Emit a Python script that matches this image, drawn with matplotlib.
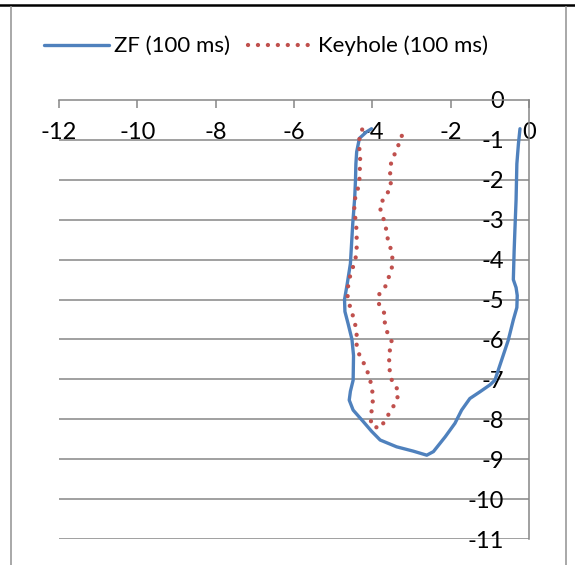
import matplotlib
matplotlib.use("Agg")
import matplotlib.pyplot as plt
from matplotlib.lines import Line2D

plt.rcParams["font.family"] = ["Lato", "DejaVu Sans"]

# ZF (100 ms) - traced along the loop, left side down, right side up
zf_x = [-4.02, -4.15, -4.33, -4.40, -4.42, -4.43, -4.45, -4.50, -4.53, -4.56,
        -4.64, -4.71, -4.70, -4.62, -4.52, -4.48, -4.49, -4.56, -4.59, -4.49,
        -4.23, -4.02, -3.80, -3.38, -2.95, -2.61, -2.44, -2.14, -1.89, -1.72,
        -1.51, -1.25, -1.00, -0.87, -0.70, -0.53, -0.40, -0.31, -0.30, -0.33,
        -0.40, -0.38, -0.36, -0.33, -0.31, -0.27, -0.23]
zf_y = [-0.72, -0.80, -0.96, -1.30, -1.60, -2.00, -2.45, -3.10, -3.60, -4.10,
        -4.60, -5.00, -5.30, -5.60, -6.00, -6.40, -7.02, -7.30, -7.52, -7.77,
        -8.06, -8.30, -8.52, -8.69, -8.80, -8.90, -8.81, -8.44, -8.10, -7.77,
        -7.48, -7.31, -7.14, -7.02, -6.52, -6.02, -5.51, -5.20, -4.90, -4.70,
        -4.50, -3.80, -3.26, -2.50, -1.60, -1.10, -0.72]

# Keyhole (100 ms)
kh_x = [-4.26, -4.33, -4.33, -4.31, -4.33, -4.38, -4.46, -4.46, -4.42, -4.40,
        -4.40, -4.40, -4.46, -4.55, -4.61, -4.64, -4.59, -4.51, -4.44, -4.40,
        -4.40, -4.33, -4.20, -4.10, -4.03, -3.99, -3.99, -4.04, -4.03, -3.80,
        -3.66, -3.52, -3.38, -3.32, -3.48, -3.55, -3.57, -3.57, -3.49, -3.61,
        -3.68, -3.69, -3.83, -3.82, -3.66, -3.57, -3.49, -3.49, -3.55, -3.63,
        -3.66, -3.74, -3.82, -3.68, -3.53, -3.53, -3.56, -3.48, -3.36, -3.28,
        -3.17]
kh_y = [-0.74, -0.96, -1.25, -1.50, -2.00, -2.28, -2.53, -2.80, -3.05, -3.32,
        -3.57, -3.84, -4.09, -4.34, -4.59, -4.87, -5.11, -5.36, -5.61, -5.89,
        -6.14, -6.39, -6.63, -6.87, -7.12, -7.37, -7.64, -7.91, -8.16, -8.23,
        -8.00, -7.77, -7.54, -7.29, -7.10, -6.85, -6.60, -6.33, -6.08, -5.85,
        -5.60, -5.35, -5.11, -4.85, -4.66, -4.41, -4.16, -3.91, -3.65, -3.40,
        -3.15, -2.90, -2.66, -2.42, -2.21, -1.96, -1.71, -1.46, -1.21, -0.96,
        -0.75]

x_ticks = [-12, -10, -8, -6, -4, -2, 0]
y_ticks = [0, -1, -2, -3, -4, -5, -6, -7, -8, -9, -10, -11]

fig = plt.figure(figsize=(5.75, 5.65), dpi=100)
ax = fig.add_axes([59 / 575, 1 - 539 / 565, 470 / 575, 439 / 565])

grid_color = "#868686"
ax.plot(zf_x, zf_y, color="#4F81BD", lw=2.4, solid_capstyle="round",
        solid_joinstyle="round", label="ZF (100 ms)", zorder=3)
ax.plot(kh_x, kh_y, color="#C0504D", lw=3.1, linestyle=(0, (0.01, 2.3)),
        dash_capstyle="round", label="Keyhole (100 ms)", zorder=3)

ax.set_xlim(-12, 0)
ax.set_ylim(-11, 0)
ax.set_xticks(x_ticks)
ax.set_xticklabels([str(v) for v in x_ticks])
ax.set_yticks(y_ticks)
ax.set_yticklabels([str(v) for v in y_ticks])

for y in y_ticks[1:]:
    ax.axhline(y, color=grid_color, lw=1.1, zorder=1)

for side in ["left", "bottom"]:
    ax.spines[side].set_visible(False)
for side in ["top", "right"]:
    ax.spines[side].set_color(grid_color)
    ax.spines[side].set_linewidth(1.1)

ax.xaxis.tick_top()
ax.tick_params(axis="x", direction="in", length=6, width=1.1, color=grid_color,
               labelsize=17, pad=-31)
ax.yaxis.tick_right()
ax.tick_params(axis="y", length=0, labelsize=17, pad=-18)
for lbl in ax.get_yticklabels():
    lbl.set_horizontalalignment("right")

ax.patch.set_visible(False)

fig.legend(loc="center", bbox_to_anchor=(266 / 575, 1 - 46 / 565), ncol=2,
           frameon=False, fontsize=16, handlelength=2.9, handletextpad=0.25,
           columnspacing=0.8)

# outer frame
fig.add_artist(Line2D([0, 1], [1 - 4.5 / 565] * 2, color="black", lw=1.8))
fig.add_artist(Line2D([11 / 575] * 2, [0, 1 - 7 / 565], color="#9a9a9a", lw=1.2))
fig.add_artist(Line2D([566 / 575] * 2, [0, 1 - 7 / 565], color="#9a9a9a", lw=1.2))

fig.savefig("out.png", dpi=100)
